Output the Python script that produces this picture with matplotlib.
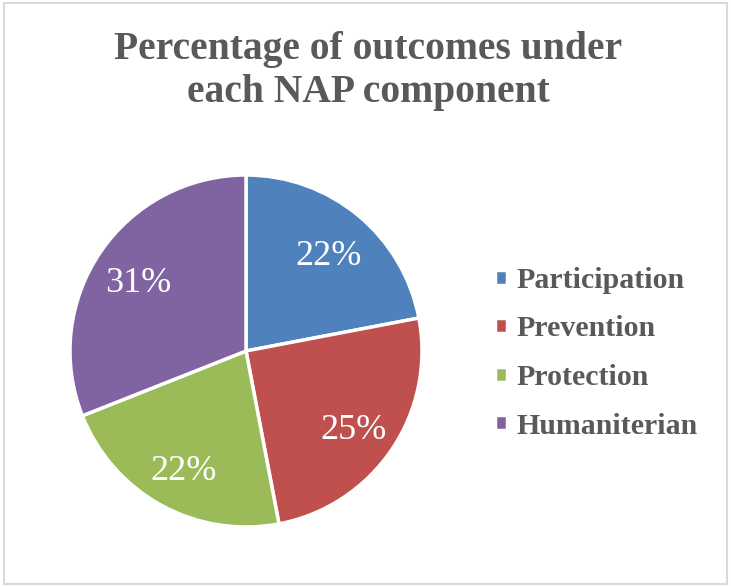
import matplotlib.pyplot as plt
import matplotlib.transforms as mtransforms
from matplotlib.patches import Rectangle

# data
components = ["Participation", "Prevention", "Protection", "Humaniterian"]
shares = [22, 25, 22, 31]
colors = ["#4F81BD", "#C0504D", "#9BBB59", "#8064A2"]
title_lines = ["Percentage of outcomes under", "each NAP component"]

W, H = 731, 586
fig = plt.figure(figsize=(W / 100, H / 100), dpi=100)

# light grey chart border
fig.patches.append(Rectangle((4 / W, 2 / H), 723 / W, 581 / H, transform=fig.transFigure,
                             fill=False, edgecolor="#d9d9d9", linewidth=1.5))

# title, two lines
for txt, base in zip(title_lines, [59, 102]):
    fig.text(368 / W, 1 - base / H, txt, ha="center", va="baseline",
             fontsize=28.5, fontweight="bold", family="Liberation Serif", color="#595959")

# pie axes: centre (246, 351) px, radius 176 px
R, cx, cy = 176, 246, 351
m = 1.03
size = 2 * R * m
ax = fig.add_axes([(cx - size / 2) / W, (H - cy - size / 2) / H, size / W, size / H])
wedges, texts, autotexts = ax.pie(
    shares, colors=colors, startangle=90, counterclock=False,
    autopct="%1.0f%%", pctdistance=0.74,
    wedgeprops=dict(edgecolor="white", linewidth=2.5),
    textprops=dict(color="white", fontsize=26, family="Liberation Serif"),
)
# nudge the percentage labels down a little, like the reference
shift = mtransforms.ScaledTranslation(0, -6 / 100, fig.dpi_scale_trans)
for t in autotexts:
    t.set_transform(t.get_transform() + shift)
ax.set_xlim(-m, m)
ax.set_ylim(-m, m)
ax.set_aspect("equal")
ax.axis("off")

leg = fig.legend(wedges, components, loc="upper left",
                 bbox_to_anchor=(495 / W, 1 - 267 / H), frameon=False,
                 handlelength=0.4, handleheight=0.4, handletextpad=0.33,
                 labelspacing=0.72, borderpad=0, borderaxespad=0,
                 prop=dict(family="Liberation Serif", weight="bold", size=21.5))
for t in leg.get_texts():
    t.set_color("#595959")

fig.savefig("out.png", dpi=100)
